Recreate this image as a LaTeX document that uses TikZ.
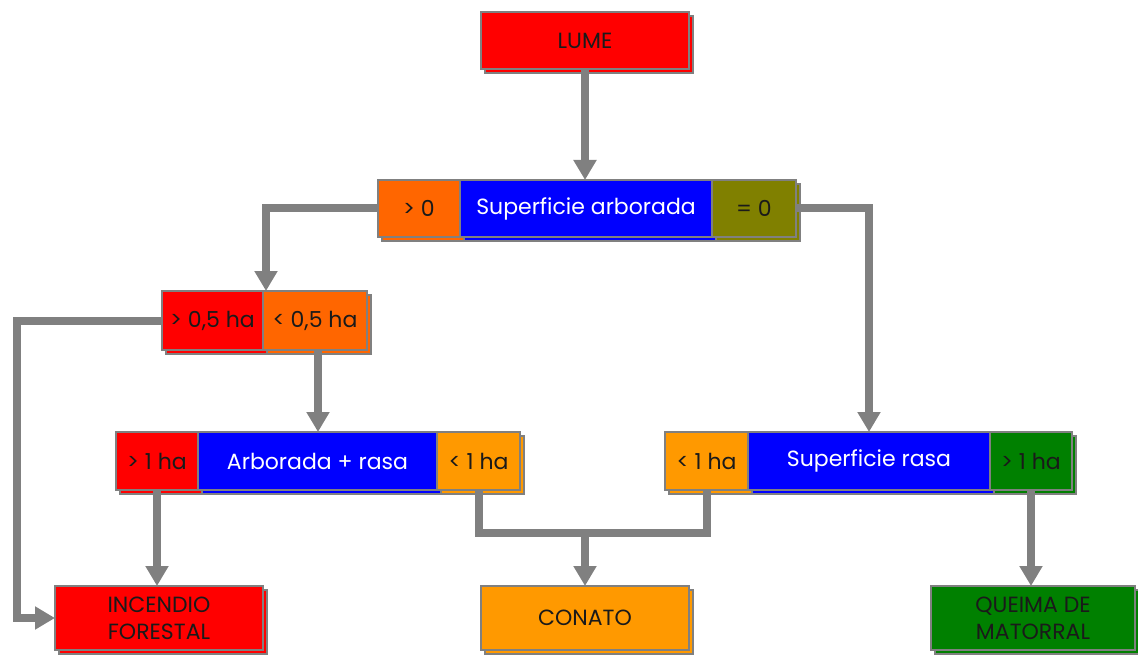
\documentclass[tikz,border=0pt]{standalone}
\usepackage{fontspec}
\setmainfont{Poppins}
\usetikzlibrary{arrows.meta,shadows}
\definecolor{cred}{HTML}{FF0000}
\definecolor{corange}{HTML}{FF6600}
\definecolor{cblue}{HTML}{0000FF}
\definecolor{colive}{HTML}{808000}
\definecolor{clight}{HTML}{FF9900}
\definecolor{cgreen}{HTML}{008000}
\definecolor{cgray}{HTML}{808080}
\definecolor{ctext}{HTML}{1A1A1A}
\begin{document}
\begin{tikzpicture}[x=1pt,y=1pt,
  box/.style={draw=cgray,line width=2.5pt,inner sep=0pt,outer sep=0pt,text=ctext,
    font=\fontsize{22}{27}\selectfont,align=center,
    copy shadow={shadow xshift=4pt,shadow yshift=-4pt}},
  conn/.style={draw=cgray,line width=8pt,line join=miter},
  arr/.style={conn,-{Triangle[width=22pt,length=20pt]}}]
\useasboundingbox (0,0) rectangle (1138,-655);
% nodes
\node[box,fill=cred,minimum width=208pt,minimum height=57pt] (lume) at (585,-40.5) {LUME};
\node[box,fill=corange,minimum width=82pt,minimum height=57pt] (gt0) at (419,-208.5) {> 0};
\node[box,fill=cblue,text=white,minimum width=252pt,minimum height=57pt] (supArb) at (586,-208.5) {Superficie arborada};
\node[box,fill=colive,minimum width=84pt,minimum height=57pt] (eq0) at (754,-208.5) {= 0};
\node[box,fill=cred,minimum width=101pt,minimum height=59pt] (gt05) at (212.5,-320.5) {> 0,5 ha};
\node[box,fill=corange,minimum width=104pt,minimum height=59pt] (lt05) at (315,-320.5) {< 0,5 ha};
\node[box,fill=cred,minimum width=82pt,minimum height=58pt] (gt1L) at (157,-461) {> 1 ha};
\node[box,fill=cblue,text=white,minimum width=239pt,minimum height=58pt] (arbRasa) at (317.5,-461) {Arborada + rasa};
\node[box,fill=clight,minimum width=83pt,minimum height=58pt] (lt1L) at (478.5,-461) {< 1 ha};
\node[box,fill=clight,minimum width=83pt,minimum height=58pt] (lt1R) at (706.5,-461) {< 1 ha};
\node[box,fill=cblue,text=white,minimum width=242pt,minimum height=58pt] (supRasa) at (869,-461) {Superficie rasa};
\node[box,fill=cgreen,minimum width=82pt,minimum height=58pt] (gt1R) at (1031,-461) {> 1 ha};
\node[box,fill=cred,minimum width=208pt,minimum height=64pt] (incendio) at (159,-618) {INCENDIO\\FORESTAL};
\node[box,fill=clight,minimum width=208pt,minimum height=64pt] (conato) at (585,-618) {CONATO};
\node[box,fill=cgreen,minimum width=204pt,minimum height=64pt] (queima) at (1033,-618) {QUEIMA DE\\MATORRAL};
% coordinates
\coordinate (cornerL) at (17,-320.5);
\coordinate (j) at (585,-533);
% connectors
\draw[arr] (lume.south) -- (lume.south |- supArb.north);
\draw[arr] (gt0.west) -| ([xshift=3pt]gt05.north east);
\draw[arr] (eq0.east) -| (supRasa.north);
\draw[arr] (gt05.west) -- (cornerL) |- (incendio.west);
\draw[arr] ([xshift=3pt]lt05.south) -- ([xshift=3pt]lt05.south |- arbRasa.north);
\draw[arr] (gt1L.south) -- (gt1L.south |- incendio.north);
\draw[conn] (lt1L.south) |- (j) -| (lt1R.south);
\draw[arr] (j) -- (conato.north);
\draw[arr] (gt1R.south) -- (gt1R.south |- queima.north);
\end{tikzpicture}
\end{document}
